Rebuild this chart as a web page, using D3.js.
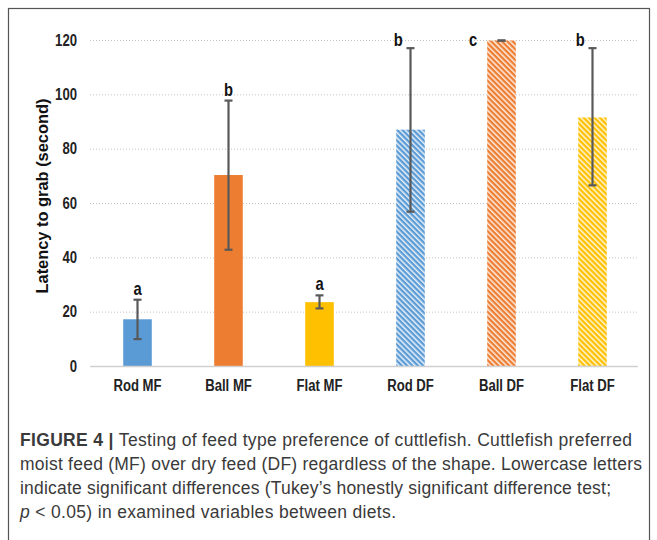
<!DOCTYPE html>
<html>
<head>
<meta charset="utf-8">
<script src="https://cdn.jsdelivr.net/npm/d3@7"></script>
<style>
  html, body { margin: 0; padding: 0; background: #fff; }
  svg { display: block; }
  .narrow { font-family: "Liberation Sans", Arial, sans-serif; }
  .cap { font-family: "Liberation Sans", Arial, Helvetica, sans-serif; }
</style>
</head>
<body>
<svg id="chart" width="657" height="540"></svg>
<script>
// ---- data ----
const categories = ["Rod MF", "Ball MF", "Flat MF", "Rod DF", "Ball DF", "Flat DF"];
const means      = [17.2, 70.3, 23.5, 87.0, 119.8, 91.5];
const errLow     = [9.9, 42.8, 21.2, 56.8, 119.8, 66.5];
const errHigh    = [24.4, 97.7, 26.0, 117.0, 119.8, 117.0];
const letters    = ["a", "b", "a", "b", "c", "b"];
const feedType   = ["MF", "MF", "MF", "DF", "DF", "DF"];
const colors     = ["#5B9BD5", "#ED7D31", "#FFC000", "#5B9BD5", "#ED7D31", "#FFC000"];
const yTicks     = [0, 20, 40, 60, 80, 100, 120];
const yTitle     = "Latency to grab (second)";
const captionLines = [
  [{t: "FIGURE 4 | ", b: true}, {t: "Testing of feed type preference of cuttlefish. Cuttlefish preferred", b: false}],
  [{t: "moist feed (MF) over dry feed (DF) regardless of the shape. Lowercase letters", b: false}],
  [{t: "indicate significant differences (Tukey\u2019s honestly significant difference test;", b: false}],
  [{t: "p", b: false, i: true}, {t: " < 0.05) in examined variables between diets.", b: false}]
];

// ---- drawing ----
const svg = d3.select("#chart");
const SX = 0.82; // horizontal squeeze to mimic a narrow face

// frame
svg.append("rect").attr("x", 8.5).attr("y", 8.5).attr("width", 641).attr("height", 545)
  .attr("fill", "none").attr("stroke", "#555").attr("stroke-width", 1.2);

const x = d3.scaleBand().domain(categories).range([92, 638]).paddingInner(0.686).paddingOuter(0.343);
const y = d3.scaleLinear().domain([0, 120]).range([366, 40]);

// hatch patterns
const defs = svg.append("defs");
["#5B9BD5", "#ED7D31", "#FFC000"].forEach((c, i) => {
  const p = defs.append("pattern").attr("id", "hatch" + i).attr("patternUnits", "userSpaceOnUse")
    .attr("width", 3.8).attr("height", 3.8).attr("patternTransform", "rotate(-45)");
  p.append("rect").attr("width", 3.8).attr("height", 3.8).attr("fill", c);
  p.append("rect").attr("x", 0).attr("y", 0).attr("width", 1.5).attr("height", 3.8).attr("fill", "#fff").attr("opacity", 0.85);
});
const colorIndex = c => ["#5B9BD5", "#ED7D31", "#FFC000"].indexOf(c);

// gridlines
svg.append("g").selectAll("line").data(yTicks.filter(d => d > 0)).join("line")
  .attr("x1", 90).attr("x2", 638)
  .attr("y1", d => y(d) + 0.5).attr("y2", d => y(d) + 0.5)
  .attr("stroke", "#c4c4c4").attr("stroke-width", 1).attr("stroke-dasharray", "1,2");

// y axis tick labels
const yAxis = d3.axisLeft(y).tickValues(yTicks).tickSize(0).tickPadding(0).tickFormat(d3.format("d"));
const ya = svg.append("g").attr("transform", "translate(77,0)").call(yAxis);
ya.select(".domain").remove();
ya.selectAll("text").attr("class", "narrow").attr("font-size", 16).attr("font-weight", "bold")
  .attr("fill", "#222").attr("transform", `scale(${SX},1)`);

// bars
const data = categories.map((c, i) => ({c, m: means[i], lo: errLow[i], hi: errHigh[i], l: letters[i], t: feedType[i], col: colors[i]}));
svg.append("g").selectAll("rect").data(data).join("rect")
  .attr("x", d => x(d.c)).attr("width", x.bandwidth())
  .attr("y", d => y(d.m)).attr("height", d => y(0) - y(d.m))
  .attr("fill", d => d.t === "MF" ? d.col : `url(#hatch${colorIndex(d.col)})`);

// baseline axis
const xAxis = d3.axisBottom(x).tickSize(0).tickPadding(14);
const xa = svg.append("g").attr("transform", `translate(0,${y(0)})`).call(xAxis);
xa.select(".domain").attr("d", "M90,0.5H638").attr("stroke", "#d0d0d0").attr("stroke-width", 1.5);
xa.selectAll("text").attr("class", "narrow").attr("font-size", 16).attr("fill", "#222").attr("font-weight", "bold")
  .attr("transform", `scale(${SX},1)`);

// error bars
const eb = svg.append("g").attr("stroke", "#595959").attr("stroke-width", 2.2);
data.forEach(d => {
  const cx = x(d.c) + x.bandwidth() / 2;
  eb.append("line").attr("x1", cx).attr("x2", cx).attr("y1", y(d.hi)).attr("y2", y(d.lo));
  [d.hi, d.lo].forEach(v => eb.append("line").attr("x1", cx - 4).attr("x2", cx + 4).attr("y1", y(v)).attr("y2", y(v)));
});

// significance letters
const lg = svg.append("g").selectAll("g").data(data).join("g")
  .attr("transform", d => {
    const cx = x(d.c) + x.bandwidth() / 2;
    let lx;
    if (d.hi < 110) lx = cx;
    else if (d.m >= 119) lx = x(d.c) - 14;
    else lx = x(d.c) + 2;
    const ly = (d.hi < 110 ? y(d.hi) - 11 : y(120)) + 6;
    return `translate(${lx},${ly}) scale(${SX},1)`;
  });
lg.append("text").attr("class", "narrow").attr("font-size", 18).attr("font-weight", "bold").attr("fill", "#111")
  .attr("text-anchor", "middle").text(d => d.l);

// y title
svg.append("text").attr("class", "narrow").attr("font-size", 17).attr("font-weight", "bold").attr("fill", "#111")
  .attr("text-anchor", "middle").attr("transform", "translate(48,196) rotate(-90)")
  .attr("textLength", 195).attr("lengthAdjust", "spacingAndGlyphs").text(yTitle);

// caption
const capBase = [446, 470, 494, 518];
const capEnd = [632, 642, 611, 396];
captionLines.forEach((line, i) => {
  const t = svg.append("text").attr("class", "cap").attr("x", 20).attr("y", capBase[i])
    .attr("font-size", 17.5).attr("fill", "#3a3a3a")
    .attr("textLength", capEnd[i] - 20).attr("lengthAdjust", "spacing");
  line.forEach(seg => {
    t.append("tspan").attr("font-weight", seg.b ? "bold" : "normal")
      .attr("font-style", seg.i ? "italic" : "normal").text(seg.t);
  });
});
</script>
</body>
</html>
